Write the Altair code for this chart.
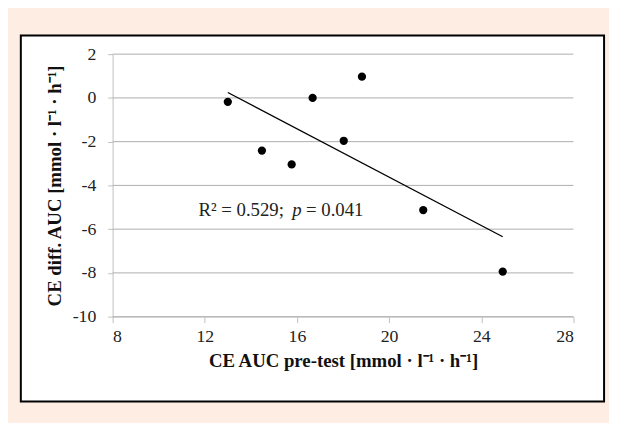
import altair as alt
import pandas as pd

# Data
pre_test_auc = [13.0, 14.48, 15.77, 16.68, 18.03, 18.82, 21.48, 24.93]
diff_auc = [-0.18, -2.41, -3.04, 0.0, -1.96, 0.97, -5.13, -7.94]
y_ticks = [2, 0, -2, -4, -6, -8, -10]
x_ticks = [8, 12, 16, 20, 24, 28]
annot_pos = {"x": 11.64, "y": -5.13}
annot_parts = ["R² = 0.529;", "p", "= 0.041"]

df = pd.DataFrame({"x": pre_test_auc, "y": diff_auc})
grid_df = pd.DataFrame({"y": y_ticks})
annot_df = pd.DataFrame([annot_pos])

SERIF = "Liberation Serif"
W, H = 467, 266
HYPHEN = "replace(datum.label, '\u2212', '-')"

xscale = alt.Scale(domain=[8, 28], nice=False, zero=False)
yscale = alt.Scale(domain=[-10, 2], nice=False, zero=False)

x_axis = alt.Axis(
    values=x_ticks, grid=False, tickSize=6, labelPadding=5,
    title="CE AUC pre-test [mmol · l⁻¹ · h⁻¹]", titlePadding=7, zindex=1,
)
y_axis = alt.Axis(
    values=y_ticks, grid=False, tickSize=5, labelPadding=12, labelExpr=HYPHEN,
    title="CE diff. AUC [mmol · l⁻¹ · h⁻¹]", titlePadding=8, zindex=1,
)

# white framed box behind the chart (decoration)
box = alt.Chart(annot_df).mark_rect(
    fill="white", stroke="black", strokeWidth=2
).encode(
    x=alt.value(-93), x2=alt.value(498), y=alt.value(-19), y2=alt.value(352)
)

grid = alt.Chart(grid_df).mark_rule(color="#ADADAD", strokeWidth=1).encode(
    y=alt.Y("y:Q", scale=yscale, axis=y_axis)
)

points = alt.Chart(df).mark_circle(size=70, color="black", opacity=1).encode(
    x=alt.X("x:Q", scale=xscale, axis=x_axis),
    y=alt.Y("y:Q", scale=yscale, axis=y_axis),
)

trend = alt.Chart(df).transform_regression("x", "y").mark_line(
    color="black", strokeWidth=1.3
).encode(
    x=alt.X("x:Q", scale=xscale),
    y=alt.Y("y:Q", scale=yscale),
)

def part(text, dx, style="normal"):
    return alt.Chart(annot_df).mark_text(
        text=text, align="left", baseline="middle", dx=dx,
        font=SERIF, fontSize=19, fontStyle=style, color="#222222",
    ).encode(x=alt.X("x:Q", scale=xscale), y=alt.Y("y:Q", scale=yscale))

annot = part(annot_parts[0], 2) + part(annot_parts[1], 97, "italic") + part(annot_parts[2], 111)

chart = alt.layer(box, grid, trend, points, annot).properties(
    width=W, height=H,
    background="#FDEDE3",
    padding={"left": 106, "top": 44, "right": 36, "bottom": 105},
    autosize=alt.AutoSizeParams(type="none"),
).configure_view(
    stroke=None
).configure_axis(
    labelFont=SERIF, labelFontSize=18, labelColor="#222222",
    titleFont=SERIF, titleFontSize=19, titleFontWeight="bold", titleColor="#111111",
    domainColor="#BFBFBF", tickColor="#BFBFBF",
)

chart.save("out.html", embed_options={"renderer": "svg", "actions": False})
